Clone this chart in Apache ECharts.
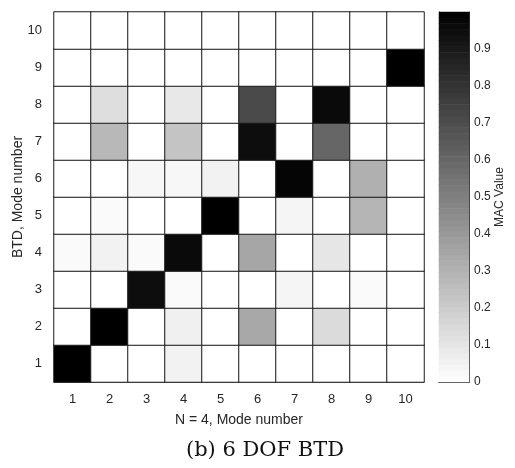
<!DOCTYPE html>
<html>
<head>
<meta charset="utf-8">
<style>
  html, body { margin: 0; padding: 0; background: #fff; }
  #chart { width: 515px; height: 468px; }
</style>
<script src="https://cdn.jsdelivr.net/npm/echarts@6/dist/echarts.min.js"></script>
</head>
<body>
<div id="chart"></div>
<script>
// Mode numbers along both axes
const nModes = ['1', '2', '3', '4', '5', '6', '7', '8', '9', '10'];
const btdModes = ['1', '2', '3', '4', '5', '6', '7', '8', '9', '10'];

// MAC values, one row per BTD mode (row i = BTD mode i+1), columns = N = 4 modes 1..10
const macRow1  = [1.00, 0,    0,    0.05, 0,    0,    0,    0,    0,    0];
const macRow2  = [0,    1.00, 0,    0.06, 0,    0.34, 0,    0.14, 0,    0];
const macRow3  = [0,    0,    0.95, 0.02, 0,    0,    0.04, 0,    0.02, 0];
const macRow4  = [0.02, 0.05, 0.02, 0.96, 0,    0.35, 0,    0.10, 0,    0];
const macRow5  = [0,    0.02, 0,    0,    1.00, 0,    0.04, 0,    0.29, 0];
const macRow6  = [0,    0,    0.03, 0.03, 0.05, 0,    0.98, 0,    0.31, 0];
const macRow7  = [0,    0.28, 0,    0.23, 0,    0.95, 0,    0.60, 0,    0];
const macRow8  = [0,    0.13, 0,    0.09, 0,    0.71, 0,    0.96, 0,    0];
const macRow9  = [0,    0,    0,    0,    0,    0,    0,    0,    0,    1.00];
const macRow10 = [0,    0,    0,    0,    0,    0,    0,    0,    0,    0];
const macRows = [macRow1, macRow2, macRow3, macRow4, macRow5, macRow6, macRow7, macRow8, macRow9, macRow10];

// Colour bar ticks
const cbarTicks = ['0', '0.1', '0.2', '0.3', '0.4', '0.5', '0.6', '0.7', '0.8', '0.9'];

const heatData = [];
macRows.forEach((row, yi) => row.forEach((v, xi) => heatData.push([xi, yi, v])));

// Colour bar stripes: one stripe per colormap level (64-level gray)
const nLevels = 64;
const stripeCats = [];
const stripeData = [];
for (let i = 0; i < nLevels; i++) {
  stripeCats.push(String(i));
  stripeData.push([0, i, (i + 0.5) / nLevels]);
}

const font = 'Liberation Sans, Arial, sans-serif';
const txt = '#262626';

const chart = echarts.init(document.getElementById('chart'), null, { renderer: 'canvas' });
chart.setOption({
  animation: false,
  backgroundColor: '#fff',
  grid: [
    { left: 54, top: 12, width: 370, height: 370, show: false, outerBoundsMode: 'none' },
    { left: 439, top: 12, width: 30, height: 370, show: false, outerBoundsMode: 'none' }
  ],
  xAxis: [
    {
      gridIndex: 0, type: 'category', data: nModes,
      name: 'N = 4, Mode number', nameLocation: 'middle', nameGap: 31, nameMoveOverlap: false,
      nameTextStyle: { fontFamily: font, fontSize: 14, color: txt },
      axisLine: { lineStyle: { color: '#808080', width: 1 } },
      axisTick: { show: false },
      axisLabel: { fontFamily: font, fontSize: 13, color: txt, margin: 11 },
      splitLine: { show: false }
    },
    {
      gridIndex: 1, type: 'category', data: ['c'],
      axisLine: { show: true, lineStyle: { color: '#333', width: 1 } },
      axisTick: { show: false }, axisLabel: { show: false }
    },
    {
      gridIndex: 1, type: 'category', data: ['c'], position: 'top',
      axisLine: { show: true, lineStyle: { color: '#333', width: 1 } },
      axisTick: { show: false }, axisLabel: { show: false }
    }
  ],
  yAxis: [
    {
      gridIndex: 0, type: 'category', data: btdModes,
      name: 'BTD, Mode number', nameLocation: 'middle', nameGap: 29, nameMoveOverlap: false,
      nameTextStyle: { fontFamily: font, fontSize: 14, color: txt },
      axisLine: { lineStyle: { color: '#808080', width: 1 } },
      axisTick: { show: false },
      axisLabel: { fontFamily: font, fontSize: 13, color: txt, margin: 12 },
      splitLine: { show: false }
    },
    {
      gridIndex: 1, type: 'category', data: stripeCats, show: false
    },
    {
      gridIndex: 1, type: 'value', min: 0, max: 1, interval: 0.1, position: 'right',
      name: 'MAC Value', nameLocation: 'middle', nameGap: 25, nameRotate: 90, nameMoveOverlap: false,
      nameTextStyle: { fontFamily: font, fontSize: 12, color: txt },
      axisLine: { show: true, lineStyle: { color: '#333', width: 1 } },
      axisTick: { show: true, inside: true, length: 3, lineStyle: { color: '#333' } },
      axisLabel: {
        fontFamily: font, fontSize: 12, color: txt, margin: 5,
        formatter: v => {
          const i = Math.round(v * 10);
          return i < cbarTicks.length ? cbarTicks[i] : '';
        }
      },
      splitLine: { show: false }
    },
    {
      gridIndex: 1, type: 'value', min: 0, max: 1, position: 'left',
      axisLine: { show: true, lineStyle: { color: '#333', width: 1 } },
      axisTick: { show: false }, axisLabel: { show: false }, splitLine: { show: false }
    }
  ],
  visualMap: {
    show: false, type: 'continuous', min: 0, max: 1, dimension: 2,
    seriesIndex: [0, 1],
    inRange: { color: ['#ffffff', '#000000'] }
  },
  series: [
    {
      type: 'heatmap', xAxisIndex: 0, yAxisIndex: 0, data: heatData,
      itemStyle: { borderColor: '#1a1a1a', borderWidth: 1 },
      emphasis: { disabled: true }
    },
    {
      type: 'heatmap', xAxisIndex: 1, yAxisIndex: 1, data: stripeData,
      itemStyle: { borderWidth: 0 },
      emphasis: { disabled: true }
    }
  ],
  graphic: [
    {
      type: 'text', x: 265, y: 451,
      style: {
        text: '(b) 6 DOF BTD', font: '21px "DejaVu Serif", "Liberation Serif", serif',
        fill: '#111', align: 'center', verticalAlign: 'middle'
      }
    }
  ]
});
</script>
</body>
</html>
